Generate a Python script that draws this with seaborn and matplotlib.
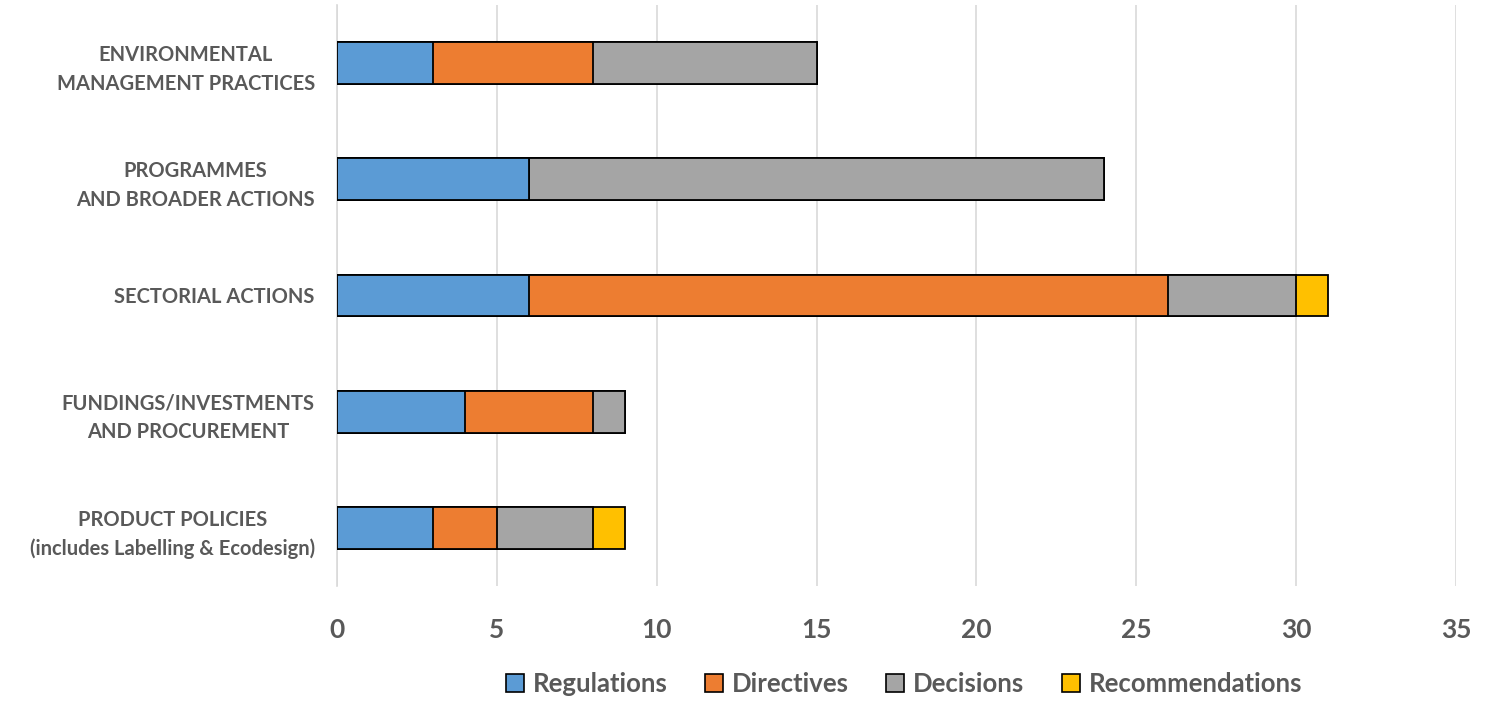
import matplotlib
matplotlib.use("Agg")
import matplotlib.pyplot as plt
import seaborn as sns
import pandas as pd
import numpy as np
from matplotlib.patches import Patch

categories = [
    "ENVIRONMENTAL\nMANAGEMENT PRACTICES",
    "PROGRAMMES\nAND BROADER ACTIONS",
    "SECTORIAL ACTIONS",
    "FUNDINGS/INVESTMENTS\nAND PROCUREMENT",
    "PRODUCT POLICIES\n(includes Labelling & Ecodesign)",
]
regulations = [3, 6, 6, 4, 3]
directives = [5, 0, 20, 4, 2]
decisions = [7, 18, 4, 1, 3]
recommendations = [0, 0, 1, 0, 1]

series_names = ["Regulations", "Directives", "Decisions", "Recommendations"]
colors = ["#5B9BD5", "#ED7D31", "#A5A5A5", "#FFC000"]

sns.set_theme(style="white")
plt.rcParams["font.family"] = ["Lato", "DejaVu Sans"]
plt.rcParams["font.weight"] = "bold"

vals = np.array([regulations, directives, decisions, recommendations], dtype=float)
cum = np.cumsum(vals, axis=0)

fig = plt.figure(figsize=(14.99, 7.01), dpi=100)
ax = fig.add_axes([0.2248, 0.164, 0.7465, 0.829])
ax.set_axisbelow(True)

for i in reversed(range(4)):
    df = pd.DataFrame({"cat": categories, "val": cum[i]})
    sns.barplot(data=df, x="val", y="cat", orient="h", color=colors[i],
                saturation=1, width=0.36, edgecolor="black", linewidth=1.3,
                ax=ax, zorder=3)

ax.set_xlim(0, 35)
ax.set_xticks(range(0, 36, 5))
ax.set_xlabel("")
ax.set_ylabel("")
ax.grid(axis="x", color="#D9D9D9", linewidth=1.2, zorder=0)
ax.grid(axis="y", visible=False)
for s in ["top", "right", "bottom"]:
    ax.spines[s].set_visible(False)
ax.spines["left"].set_color("#D9D9D9")
ax.spines["left"].set_linewidth(1.2)

ax.tick_params(axis="x", length=0, pad=23, labelsize=19, labelcolor="#595959")
ax.tick_params(axis="y", length=0, pad=16, labelsize=14.5, labelcolor="#595959")
for lab in ax.get_yticklabels():
    lab.set_multialignment("center")
    lab.set_fontweight("bold")
    lab.set_linespacing(1.55)
for lab in ax.get_xticklabels():
    lab.set_fontweight("bold")

handles = [Patch(facecolor=c, edgecolor="black", linewidth=1.2) for c in colors]
leg = fig.legend(handles, series_names, loc="center", bbox_to_anchor=(0.603, 0.024),
                 ncol=4, frameon=False, handlelength=0.7, handleheight=0.7,
                 handletextpad=0.35, columnspacing=1.45,
                 prop={"size": 18.5, "weight": "bold"})
for t in leg.get_texts():
    t.set_color("#595959")

fig.savefig("out.png", dpi=100)
